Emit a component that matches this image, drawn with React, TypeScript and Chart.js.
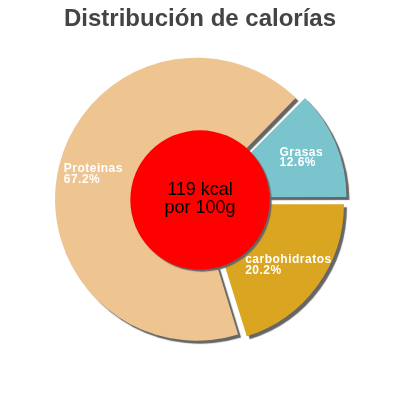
import React, { useEffect, useRef } from "react";
import { Chart, registerables } from "chart.js";

Chart.register(...registerables);

const chartTitle = "Distribución de calorías";
const categories = ["Grasas", "carbohidratos", "Proteinas"];
const percents = [12.6, 20.2, 67.2];
const sliceColors = ["#7AC5CD", "#DAA520", "#EEC591"];
const explode = [28, 28, 14];
const centerLines = ["119 kcal", "por 100g"];

const FONT = '"Liberation Sans", Arial, Helvetica, sans-serif';

export default function App() {
  const ref = useRef<HTMLCanvasElement>(null);

  useEffect(() => {
    const canvas = ref.current;
    if (!canvas) return;
    const total = percents.reduce((a, b) => a + b, 0);

    const decor = {
      id: "decor",
      beforeDatasetsDraw(chart: any) {
        const ctx = chart.ctx;
        ctx.save();
        ctx.shadowColor = "#666666";
        ctx.shadowOffsetX = 3;
        ctx.shadowOffsetY = 3;
        ctx.shadowBlur = 1;
      },
      afterDatasetsDraw(chart: any) {
        const ctx = chart.ctx;
        ctx.restore();
        const meta = chart.getDatasetMeta(0);
        const first: any = meta.data[0];
        const cx = first.x;
        const cy = first.y;
        const R = first.outerRadius;
        const rc = R * 0.505;

        // center disc
        ctx.save();
        ctx.shadowColor = "#666666";
        ctx.shadowOffsetX = 2;
        ctx.shadowOffsetY = 2;
        ctx.shadowBlur = 1;
        ctx.beginPath();
        ctx.arc(cx, cy, rc, 0, Math.PI * 2);
        ctx.fillStyle = "#FF0000";
        ctx.fill();
        ctx.restore();

        // center text
        ctx.save();
        ctx.fillStyle = "#000000";
        ctx.font = `18px ${FONT}`;
        ctx.textAlign = "center";
        ctx.textBaseline = "alphabetic";
        ctx.fillText(centerLines[0], cx, cy - 5);
        ctx.fillText(centerLines[1], cx, cy + 13);
        ctx.restore();

        // slice labels
        ctx.save();
        ctx.fillStyle = "#FFFFFF";
        ctx.font = `bold 12px ${FONT}`;
        (ctx as any).letterSpacing = "0.5px";
        ctx.textAlign = "left";
        ctx.textBaseline = "middle";
        meta.data.forEach((el: any, i: number) => {
          const mid = (el.startAngle + el.endAngle) / 2;
          const r = 7 + 0.745 * el.outerRadius;
          const x = el.x + Math.cos(mid) * r;
          const y = el.y + Math.sin(mid) * r;
          const lines = [categories[i], percents[i].toFixed(1) + "%"];
          const w = Math.max(...lines.map((l) => ctx.measureText(l).width));
          const x0 = x - w / 2;
          ctx.fillText(lines[0], x0, y - 5.25);
          ctx.fillText(lines[1], x0, y + 5.25);
        });
        ctx.restore();
      },
    };

    const chart = new Chart(canvas, {
      type: "pie",
      data: {
        labels: categories,
        datasets: [
          {
            data: percents,
            backgroundColor: sliceColors,
            borderWidth: 0,
            offset: explode,
            radius: 138,
          } as any,
        ],
      },
      options: {
        responsive: false,
        animation: false,
        rotation: 90 - (360 * percents[0]) / total,
        layout: { padding: { top: 0, bottom: 33.8, left: 0, right: 0 } },
        plugins: {
          legend: { display: false },
          tooltip: { enabled: false },
          title: {
            display: true,
            text: chartTitle,
            color: "#444444",
            font: { family: FONT, size: 24, weight: "bold" },
            padding: { top: 5, bottom: 0 },
          },
        },
      } as any,
      plugins: [decor],
    });

    return () => chart.destroy();
  }, []);

  return (
    <canvas
      ref={ref}
      width={400}
      height={400}
      style={{ position: "absolute", left: 0, top: 0, width: 400, height: 400, display: "block" }}
    />
  );
}
